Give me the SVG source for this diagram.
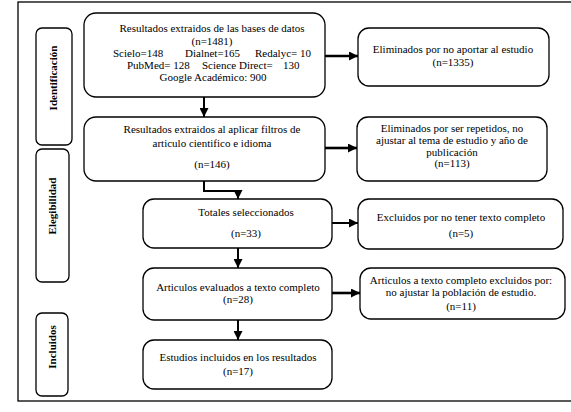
<svg xmlns="http://www.w3.org/2000/svg" width="571" height="412" viewBox="0 0 571 412">
<style>
  .frame { fill: none; stroke: #000; stroke-width: 1.3; }
  .box { fill: #fff; stroke: #000; stroke-width: 1.3; }
  .t { font-family: "Liberation Serif", "Times New Roman", serif; font-size: 11px; fill: #000; text-anchor: middle; }
  .ts { font-family: "Liberation Serif", "Times New Roman", serif; font-size: 11px; fill: #000; }
  .lbl { font-family: "Liberation Serif", "Times New Roman", serif; font-size: 11px; font-weight: bold; fill: #000; text-anchor: middle; }
  .conn { fill: none; stroke: #000; stroke-width: 2; }
  .thick { stroke-width: 2.6; }
</style>
<defs>
  <marker id="ah" markerUnits="userSpaceOnUse" markerWidth="9" markerHeight="9" viewBox="0 0 9 9" refX="9" refY="4.5" orient="auto">
    <path d="M0,0 L9,4.5 L0,9 Z" fill="#000"/>
  </marker>
</defs>
<rect width="571" height="412" fill="#fff"/>
<rect class="frame" x="18" y="2" width="570" height="399"/>

<g id="lbl-identificacion">
  <rect class="box" x="36" y="28" width="36" height="117" rx="6"/>
  <text class="lbl" transform="translate(57,78) rotate(-90)">Identificación</text>
</g>
<g id="lbl-elegibilidad">
  <rect class="box" x="36" y="149" width="33" height="133" rx="6"/>
  <text class="lbl" transform="translate(56,206) rotate(-90)">Elegibilidad</text>
</g>
<g id="lbl-incluidos">
  <rect class="box" x="36" y="313" width="32" height="83" rx="6"/>
  <text class="lbl" transform="translate(56,347) rotate(-90)">Incluidos</text>
</g>

<g id="connectors">
  <line class="conn" x1="204" y1="97" x2="204" y2="117" marker-end="url(#ah)"/>
  <polyline class="conn" points="204,181 204,191 238,191 238,199" marker-end="url(#ah)"/>
  <line class="conn" x1="238" y1="248" x2="238" y2="268" marker-end="url(#ah)"/>
  <line class="conn" x1="238" y1="320" x2="238" y2="340" marker-end="url(#ah)"/>
  <line class="conn thick" x1="325" y1="56" x2="358" y2="56" marker-end="url(#ah)"/>
  <line class="conn thick" x1="325" y1="148" x2="357" y2="148" marker-end="url(#ah)"/>
  <line class="conn" x1="332" y1="223" x2="358" y2="223" marker-end="url(#ah)"/>
  <line class="conn thick" x1="332" y1="293" x2="360" y2="293" marker-end="url(#ah)"/>
</g>

<g id="n-bases">
  <rect class="box" x="84" y="13" width="241" height="84" rx="12"/>
  <text class="t" x="212" y="32">Resultados extraidos de las bases de datos</text>
  <text class="t" x="212" y="45">(n=1481)</text>
  <text class="ts" y="57"><tspan x="113">Scielo=148</tspan><tspan x="185">Dialnet=165</tspan><tspan x="255">Redalyc= 10</tspan></text>
  <text class="ts" y="69"><tspan x="127">PubMed= 128</tspan><tspan x="202">Science Direct=</tspan><tspan x="283">130</tspan></text>
  <text class="t" x="213" y="81">Google Académico: 900</text>
</g>
<g id="n-filtros">
  <rect class="box" x="84" y="117" width="241" height="64" rx="12"/>
  <text class="t" x="212" y="133">Resultados extraidos al aplicar filtros de</text>
  <text class="t" x="212" y="147">articulo cientifico e idioma</text>
  <text class="t" x="212" y="168">(n=146)</text>
</g>
<g id="n-totales">
  <rect class="box" x="143" y="199" width="189" height="49" rx="11"/>
  <text class="t" x="246" y="216">Totales seleccionados</text>
  <text class="t" x="246" y="237">(n=33)</text>
</g>
<g id="n-evaluados">
  <rect class="box" x="143" y="268" width="189" height="52" rx="11"/>
  <text class="t" x="238" y="291">Articulos evaluados a texto completo</text>
  <text class="t" x="238" y="303">(n=28)</text>
</g>
<g id="n-incluidos">
  <rect class="box" x="143" y="340" width="189" height="49" rx="11"/>
  <text class="t" x="238" y="361">Estudios incluidos en los resultados</text>
  <text class="t" x="238" y="375">(n=17)</text>
</g>

<g id="r-eliminados1">
  <rect class="box" x="358" y="28" width="191" height="58" rx="11"/>
  <text class="t" x="453" y="53">Eliminados por no aportar al estudio</text>
  <text class="t" x="453" y="66">(n=1335)</text>
</g>
<g id="r-eliminados2">
  <rect class="box" x="357" y="117" width="190" height="64" rx="11"/>
  <text class="t" x="452" y="132">Eliminados por ser repetidos, no</text>
  <text class="t" x="452" y="144">ajustar al tema de estudio y año de</text>
  <text class="t" x="452" y="156">publicación</text>
  <text class="t" x="452" y="167">(n=113)</text>
</g>
<g id="r-excluidos">
  <rect class="box" x="358" y="199" width="205" height="50" rx="11"/>
  <text class="t" x="461" y="221">Excluidos por no tener texto completo</text>
  <text class="t" x="461" y="237">(n=5)</text>
</g>
<g id="r-excluidos2">
  <rect class="box" x="360" y="268" width="205" height="51" rx="11"/>
  <text class="t" x="461" y="284">Articulos a texto completo excluidos por:</text>
  <text class="t" x="461" y="296">no ajustar la población de estudio.</text>
  <text class="t" x="461" y="310">(n=11)</text>
</g>
</svg>
